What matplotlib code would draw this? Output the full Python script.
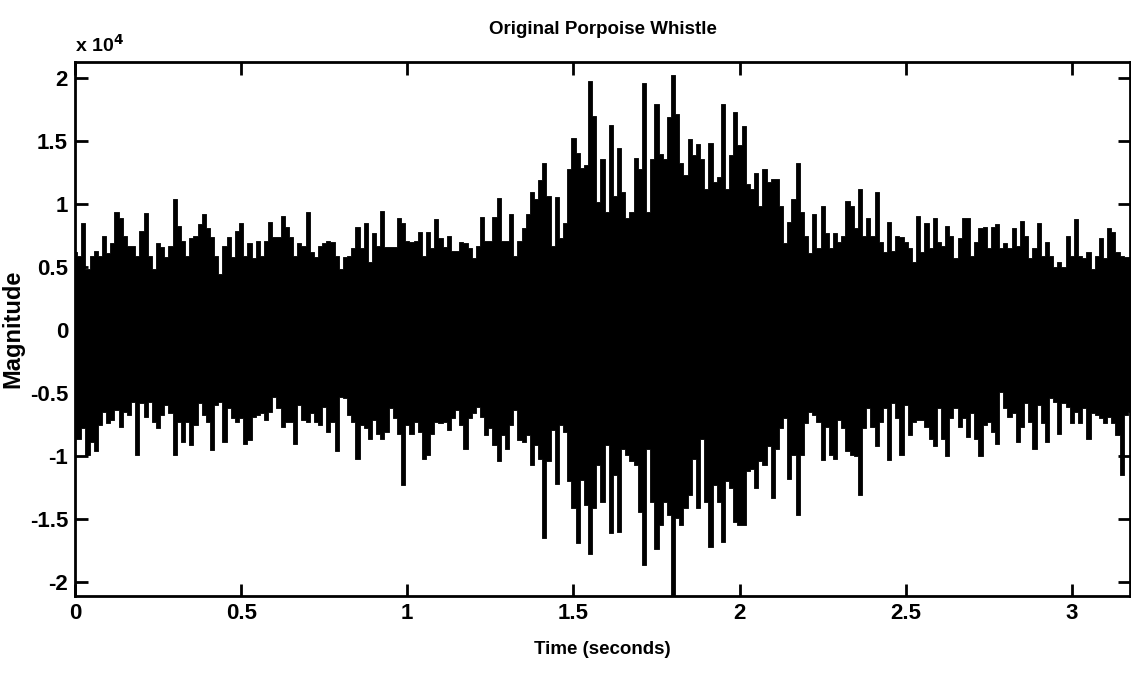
import numpy as np
import matplotlib
matplotlib.use("Agg")
import matplotlib.pyplot as plt
from matplotlib.ticker import FuncFormatter

sample_step = 0.0125

upper_peaks = [
    0.62, 0.59, 0.85, 0.49, 0.59, 0.63, 0.59, 0.75, 0.61, 0.69,
    0.94, 0.89, 0.75, 0.67, 0.67, 0.59, 0.79, 0.93, 0.59, 0.49,
    0.69, 0.66, 0.58, 0.67, 1.04, 0.83, 0.71, 0.59, 0.73, 0.75,
    0.84, 0.92, 0.81, 0.74, 0.59, 0.45, 0.67, 0.74, 0.58, 0.79,
    0.85, 0.59, 0.69, 0.57, 0.71, 0.59, 0.71, 0.86, 0.74, 0.74,
    0.91, 0.82, 0.74, 0.59, 0.69, 0.67, 0.94, 0.62, 0.58, 0.67,
    0.69, 0.71, 0.70, 0.59, 0.49, 0.58, 0.59, 0.65, 0.82, 0.65,
    0.85, 0.54, 0.77, 0.67, 0.95, 0.66, 0.66, 0.66, 0.89, 0.85,
    0.71, 0.70, 0.71, 0.78, 0.59,
    # 1.0625 s
    0.78, 0.65, 0.88, 0.73, 0.66, 0.75, 0.63, 0.63, 0.70, 0.69,
    0.65, 0.57, 0.67, 0.90, 0.71, 0.71, 0.90, 1.05, 0.71, 0.71,
    0.92, 0.59, 0.71, 0.81, 0.92, 1.10, 1.04, 1.19, 1.33, 1.07,
    0.67, 1.06, 0.73, 0.85, 1.28, 1.53, 1.41, 1.29, 1.31, 1.98,
    1.70, 1.02, 1.36, 0.94, 1.63, 1.07, 1.45, 1.10, 0.89, 0.94,
    1.37, 1.28, 1.96, 0.94, 1.36, 1.80, 1.40, 1.36, 1.69, 2.03,
    1.72, 1.33, 1.23, 1.52, 1.39, 1.48, 1.36, 1.12, 1.49, 1.18,
    1.22, 1.80, 1.12, 1.39, 1.73, 1.47, 1.62, 1.16, 1.12, 1.25,
    0.99, 1.28, 1.18, 1.20, 1.20, 0.99,
    # 2.1375 s
    0.69, 0.86, 1.04, 1.33, 0.94, 0.75, 0.61, 0.92, 0.65, 0.99,
    0.77, 0.65, 0.77, 0.70, 0.75, 1.03, 0.99, 0.81, 1.12, 0.75,
    0.89, 0.75, 1.10, 0.70, 0.62, 0.86, 0.63, 0.75, 0.74, 0.70,
    0.65, 0.54, 0.91, 0.62, 0.85, 0.65, 0.89, 0.70, 0.67, 0.83,
    0.75, 0.57, 0.73, 0.89, 0.89, 0.59, 0.70, 0.81, 0.82, 0.65,
    0.82, 0.84, 0.65, 0.69, 0.65, 0.81, 0.67, 0.87, 0.75, 0.57,
    0.65, 0.85, 0.59, 0.70, 0.59, 0.50, 0.54, 0.50, 0.75, 0.59,
    0.88, 0.59, 0.57, 0.62, 0.49, 0.59, 0.73, 0.57, 0.81, 0.78,
    0.62, 0.59, 0.58, 0.58,
]

lower_peaks = [
    -0.86, -0.86, -0.78, -0.99, -0.89, -0.96, -0.75, -0.65, -0.74, -0.71,
    -0.63, -0.77, -0.65, -0.67, -0.57, -0.99, -0.58, -0.69, -0.57, -0.73,
    -0.78, -0.67, -0.59, -0.66, -0.99, -0.73, -0.89, -0.73, -0.91, -0.75,
    -0.58, -0.67, -0.73, -0.95, -0.59, -0.57, -0.89, -0.62, -0.70, -0.73,
    -0.70, -0.90, -0.87, -0.69, -0.67, -0.66, -0.71, -0.65, -0.53, -0.62,
    -0.77, -0.73, -0.73, -0.90, -0.59, -0.71, -0.73, -0.66, -0.73, -0.75,
    -0.61, -0.81, -0.73, -0.96, -0.53, -0.54, -0.67, -0.73, -1.02, -0.75,
    -0.78, -0.86, -0.71, -0.82, -0.86, -0.81, -0.62, -0.70, -0.82, -1.23,
    -0.75, -0.82, -0.73, -0.81, -1.02,
    # 1.0625 s
    -0.99, -0.82, -0.73, -0.74, -0.73, -0.79, -0.70, -0.63, -0.75, -0.94,
    -0.70, -0.66, -0.61, -0.69, -0.83, -0.78, -0.91, -1.04, -0.83, -0.94,
    -0.75, -0.63, -0.87, -0.89, -0.83, -1.07, -0.91, -1.02, -1.65, -1.04,
    -0.79, -1.22, -0.75, -0.81, -1.20, -1.41, -1.69, -1.19, -1.39, -1.78,
    -1.41, -1.07, -1.36, -0.91, -1.61, -1.15, -1.60, -0.94, -0.99, -1.04,
    -1.07, -1.44, -1.86, -0.94, -1.36, -1.74, -1.55, -1.36, -1.47, -2.10,
    -1.49, -1.55, -1.41, -1.31, -1.02, -1.41, -0.86, -1.36, -1.72, -1.23,
    -1.36, -1.68, -1.20, -1.25, -1.52, -1.55, -1.55, -1.12, -1.10, -1.25,
    -1.04, -1.07, -0.92, -1.33, -0.94, -0.78,
    # 2.1375 s
    -0.70, -1.18, -0.99, -1.47, -0.99, -0.74, -0.65, -0.67, -0.73, -1.03,
    -0.77, -0.99, -1.02, -0.71, -0.78, -0.96, -0.99, -1.00, -1.31, -0.78,
    -0.62, -0.77, -0.92, -0.73, -0.62, -1.03, -0.58, -0.70, -0.99, -0.59,
    -0.83, -0.73, -0.71, -0.71, -0.77, -0.86, -0.92, -0.62, -0.86, -1.00,
    -0.70, -0.62, -0.77, -0.70, -0.85, -0.66, -0.86, -1.00, -0.75, -0.73,
    -0.81, -0.90, -0.49, -0.62, -0.69, -0.66, -0.89, -0.77, -0.58, -0.73,
    -0.94, -0.59, -0.74, -0.89, -0.54, -0.57, -0.82, -0.58, -0.61, -0.74,
    -0.65, -0.74, -0.62, -0.86, -0.66, -0.67, -0.70, -0.74, -0.69, -0.74,
    -0.83, -1.15, -0.67, -0.65,
]

time_s = np.arange(len(upper_peaks)) * sample_step
upper = np.array(upper_peaks) * 1e4
lower = np.array(lower_peaks) * 1e4

plt.rcParams['font.family'] = ['Liberation Sans', 'DejaVu Sans']
plt.rcParams['font.weight'] = 'bold'

fig = plt.figure(figsize=(11.31, 6.75), dpi=100)
ax = fig.add_axes([75 / 1131, 79 / 675, 1055 / 1131, 534 / 675])

ax.fill_between(time_s, lower, upper, step='mid', color='black', linewidth=0.6,
                edgecolor='black')

ax.set_xlim(0, 3.175)
ax.set_ylim(-2.11e4, 2.13e4)
ax.set_xticks([0, 0.5, 1, 1.5, 2, 2.5, 3])
ax.set_yticks(np.arange(-2, 2.01, 0.5) * 1e4)
ax.xaxis.set_major_formatter(FuncFormatter(lambda v, p: '%g' % v))
ax.yaxis.set_major_formatter(FuncFormatter(lambda v, p: '%g' % (v / 1e4)))

ax.tick_params(direction='in', length=9, width=2, top=True, right=True,
               labelsize=16, pad=5)
for lab in ax.get_xticklabels() + ax.get_yticklabels():
    lab.set_fontweight('bold')
for s in ax.spines.values():
    s.set_linewidth(2)

ax.set_title('Original Porpoise Whistle', fontsize=13.5, fontweight='bold', pad=20)
ax.set_xlabel('Time (seconds)', fontsize=13.5, fontweight='bold', labelpad=12)
ax.set_ylabel('Magnitude', fontsize=17, fontweight='bold', labelpad=4)
ax.text(0.0, 1.012, r'x 10$^{4}$', transform=ax.transAxes, fontsize=14,
        fontweight='bold', ha='left', va='bottom')

fig.savefig('out.png', dpi=100)
